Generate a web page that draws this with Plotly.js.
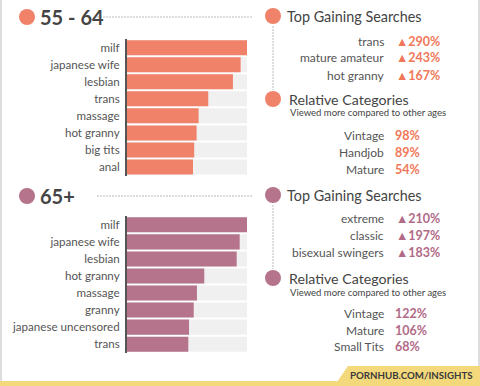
<!DOCTYPE html>
<html><head><meta charset="utf-8">
<script src="https://cdn.plot.ly/plotly-3.0.1.min.js"></script>
<style>html,body{margin:0;padding:0;background:#fff}#chart{width:480px;height:386px}</style>
</head><body><div id="chart"></div>
<script>
// ---- data ----
const groupTop = "55 - 64";
const catsTop = ["milf","japanese wife","lesbian","trans","massage","hot granny","big tits","anal"];
const valsTop = [100, 94.7, 88.3, 67.7, 59.7, 58, 56, 55];
const groupBottom = "65+";
const catsBottom = ["milf","japanese wife","lesbian","hot granny","massage","granny","japanese uncensored","trans"];
const valsBottom = [100, 93.9, 91.4, 64.4, 58.3, 55.6, 51.7, 51.1];
const gainTopLabels = ["trans","mature amateur","hot granny"];
const gainTopValues = [290, 243, 167];
const relTopLabels = ["Vintage","Handjob","Mature"];
const relTopValues = [98, 89, 54];
const gainBottomLabels = ["extreme","classic","bisexual swingers"];
const gainBottomValues = [210, 197, 183];
const relBottomLabels = ["Vintage","Mature","Small Tits"];
const relBottomValues = [122, 106, 68];

const W = 480, H = 386;
const px = x => x / W, py = y => 1 - y / H;
const ORANGE = "#f0826a", MAUVE = "#b5748c", GRAYBAR = "#f0f0f0";
const ORANGE_T = "#f07858", MAUVE_T = "#b26a87";
const FONT = "Lato, 'Open Sans', sans-serif";

function barTraces(cats, vals, color, ax) {
  return [
    {type:"bar", orientation:"h", y:cats, x:cats.map(()=>100), marker:{color:GRAYBAR},
     xaxis:"x"+ax, yaxis:"y"+ax, hoverinfo:"skip", showlegend:false},
    {type:"bar", orientation:"h", y:cats, x:vals, marker:{color:color},
     xaxis:"x"+ax, yaxis:"y"+ax, showlegend:false}
  ];
}
const data = [...barTraces(catsTop, valsTop, ORANGE, ""), ...barTraces(catsBottom, valsBottom, MAUVE, "2")];

function xax() {
  return {domain:[px(127), px(247)], range:[0,100], showgrid:false, zeroline:false,
          showticklabels:false, fixedrange:true};
}
function yax(cats, top, bottom) {
  return {domain:[py(bottom), py(top)], type:"category", categoryorder:"array", categoryarray:cats,
          autorange:"reversed", showline:true, linecolor:"#555", linewidth:2, ticks:"",
          ticklabelstandoff:3, tickfont:{family:FONT, size:11.6, color:"#555"}, showgrid:false, zeroline:false};
}

const ann = [], shapes = [];
function circle(cx, cy, r, color) {
  shapes.push({type:"circle", xref:"paper", yref:"paper", x0:px(cx-r), x1:px(cx+r), y0:py(cy+r), y1:py(cy-r),
               fillcolor:color, line:{width:0}});
}
function line(x0,y0,x1,y1,color,dash,w) {
  shapes.push({type:"line", xref:"paper", yref:"paper", x0:px(x0), x1:px(x1), y0:py(y0), y1:py(y1),
               line:{color:color, width:w||1, dash:dash||"solid"}});
}
function text(t, x, y, opts) {
  ann.push(Object.assign({text:t, xref:"paper", yref:"paper", x:px(x), y:py(y), showarrow:false,
    xanchor:"left", yanchor:"middle", font:{family:FONT, size:12, color:"#555"}}, opts||{}));
}

function section(y0, title, color, tcolor, gLabels, gValues, rLabels, rValues, gRows, rTop, rRows) {
  circle(27, y0, 8, color);
  text("<b>"+title+"</b>", 38, y0, {font:{family:FONT, size:20, color:"#444"}});
  line(97, y0, 252, y0, "#bbb", "2px,1px", 1);
  circle(273, y0-1, 8, color);
  text("Top Gaining Searches", 285, y0-1, {font:{family:FONT, size:14.4, color:"#444"}});
  line(273, y0+9, 273, rTop-9, "#bbb", "2px,1px", 1);
  gLabels.forEach((l,i)=>{
    text(l, 386, gRows[i], {xanchor:"right"});
    text("<b>▲"+gValues[i]+"%</b>", 394, gRows[i], {font:{family:FONT, size:12.5, color:tcolor}});
  });
  circle(273, rTop, 8, color);
  text("Relative Categories", 287, rTop, {font:{family:FONT, size:14.2, color:"#444"}});
  text("Viewed more compared to other ages", 288, rTop+14, {font:{family:FONT, size:9.5, color:"#444"}});
  rLabels.forEach((l,i)=>{
    text(l, 386, rRows[i], {xanchor:"right"});
    text("<b>"+rValues[i]+"%</b>", 393, rRows[i], {font:{family:FONT, size:12.5, color:tcolor}});
  });
}
section(17, groupTop, ORANGE, ORANGE_T, gainTopLabels, gainTopValues, relTopLabels, relTopValues,
        [41, 58, 75], 99, [135, 152, 169]);
section(196, groupBottom, MAUVE, MAUVE_T, gainBottomLabels, gainBottomValues, relBottomLabels, relBottomValues,
        [218, 235, 252], 278, [313, 330, 346]);

// frame and footer
line(1, 0, 1, 381, "#ddd", "solid", 2);
line(479, 0, 479, 381, "#ddd", "solid", 2);
shapes.push({type:"rect", xref:"paper", yref:"paper", x0:0, x1:1, y0:0, y1:py(381), fillcolor:"#f4d97c", line:{width:0}});
shapes.push({type:"path", xref:"paper", yref:"paper",
  path:`M ${px(337)} ${py(382)} L ${px(348)} ${py(366)} L 1 ${py(366)} L 1 ${py(382)} Z`,
  fillcolor:"#f4d97c", line:{width:0}});
text("<b>PORNHUB.COM/INSIGHTS</b>", 411, 375, {xanchor:"center", font:{family:FONT, size:9.7, color:"#3a3a3a"}});

const layout = {
  width:W, height:H, margin:{l:0,r:0,t:0,b:0}, paper_bgcolor:"#fff", plot_bgcolor:"rgba(0,0,0,0)",
  barmode:"overlay", bargap:0.12, showlegend:false,
  xaxis:xax(), yaxis:yax(catsTop, 39.2, 175.5),
  xaxis2:Object.assign(xax(), {anchor:"y2"}), yaxis2:Object.assign(yax(catsBottom, 216.3, 352.7), {anchor:"x2"}),
  annotations:ann, shapes:shapes
};
layout.xaxis.anchor = "y";
Plotly.newPlot("chart", data, layout, {displayModeBar:false, staticPlot:true});
</script></body></html>
